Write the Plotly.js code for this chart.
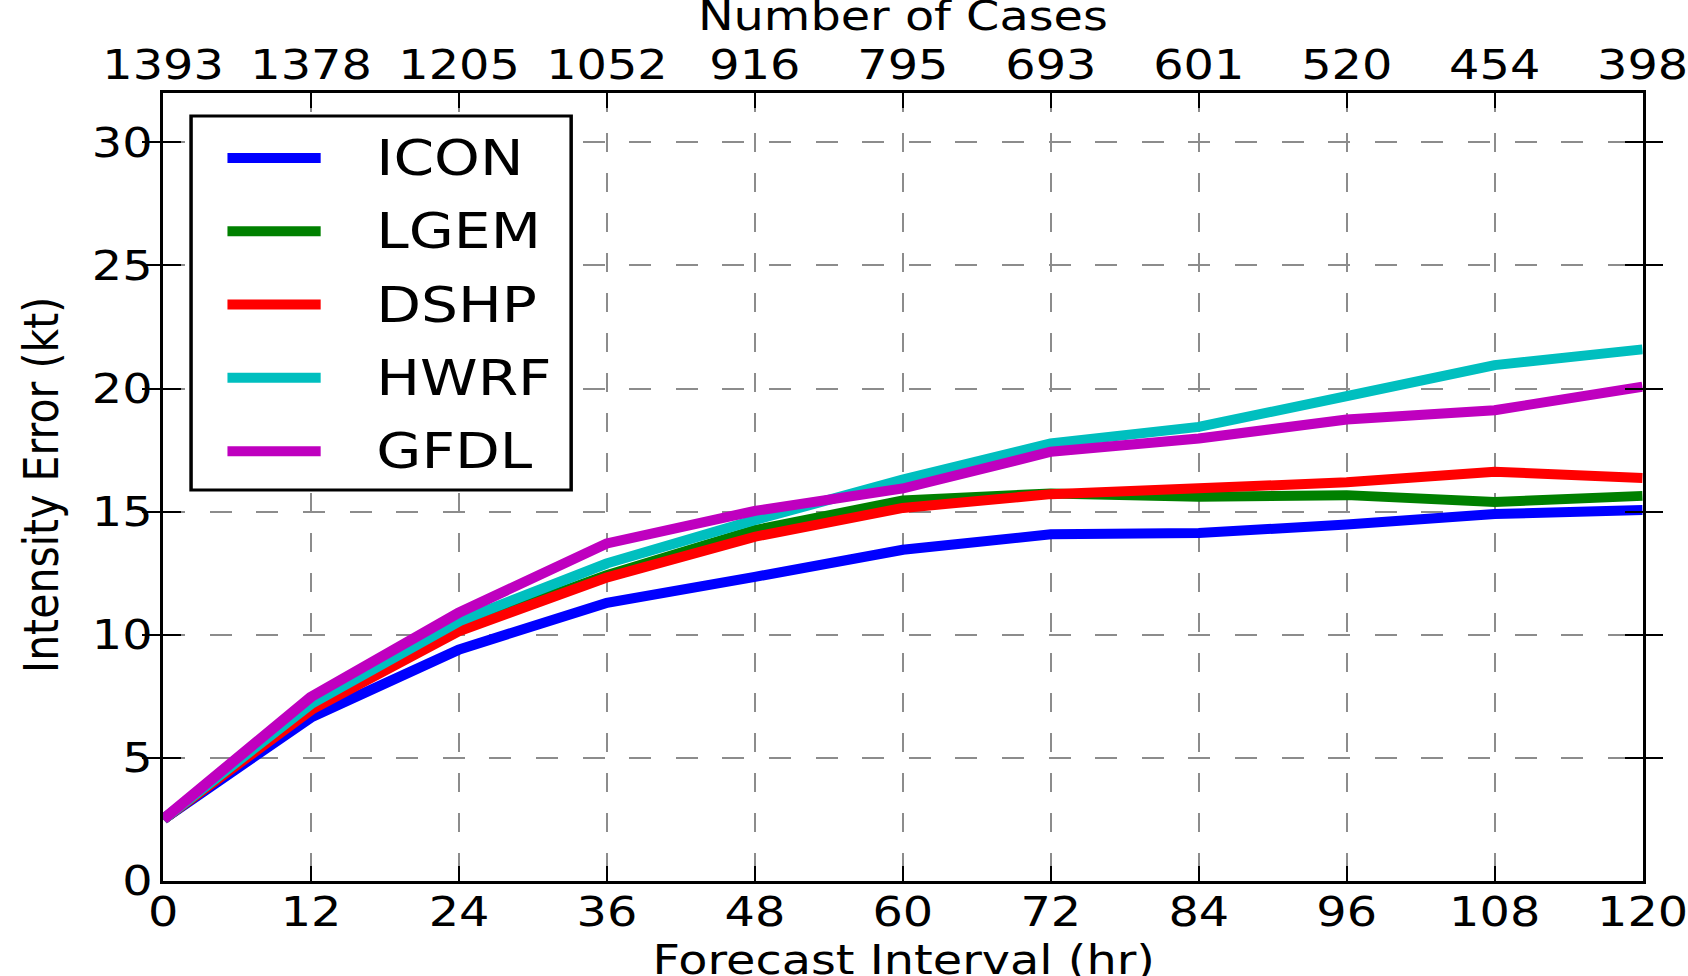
<!DOCTYPE html>
<html>
<head>
<meta charset="utf-8">
<script src="https://cdn.plot.ly/plotly-3.0.1.min.js"></script>
<style>
html,body{margin:0;padding:0;background:#fff;overflow:hidden;}
#wrap{width:1688px;height:976px;overflow:hidden;}
#chart{height:976px;transform-origin:0 0;}
</style>
</head>
<body>
<div id="wrap"><div id="chart"></div></div>
<script>
// Forecast hours (bottom axis) and number of cases (top axis)
const hours = [0, 12, 24, 36, 48, 60, 72, 84, 96, 108, 120];
const caseCounts = ['1393', '1378', '1205', '1052', '916', '795', '693', '601', '520', '454', '398'];

// Intensity error (kt) per model
const icon = [2.5, 6.65, 9.4, 11.3, 12.35, 13.45, 14.08, 14.13, 14.48, 14.9, 15.07];
const lgem = [2.5, 7.0, 10.25, 12.42, 14.25, 15.45, 15.74, 15.6, 15.67, 15.39, 15.64];
const dshp = [2.5, 6.95, 10.15, 12.33, 13.98, 15.15, 15.71, 15.92, 16.19, 16.62, 16.37];
const hwrf = [2.5, 7.2, 10.55, 12.9, 14.66, 16.3, 17.77, 18.44, 19.69, 20.95, 21.59];
const gfdl = [2.5, 7.48, 10.9, 13.71, 15.03, 15.94, 17.43, 17.97, 18.74, 19.12, 20.07];

const modelNames = ['ICON', 'LGEM', 'DSHP', 'HWRF', 'GFDL'];
const modelValues = [icon, lgem, dshp, hwrf, gfdl];
const modelColors = ['#0000ff', '#008000', '#ff0000', '#00bfbf', '#bf00bf'];

const yTicks = [0, 5, 10, 15, 20, 25, 30];

// The reference figure is horizontally stretched; reproduce that stretch.
const STRETCH = 1.165;
const W = 1688 / STRETCH, H = 976;
const chartDiv = document.getElementById('chart');
chartDiv.style.width = W + 'px';
chartDiv.style.transform = 'scaleX(' + STRETCH + ')';

const FONT = 'DejaVu Sans, Liberation Sans, sans-serif';
const FS = 41, LEG_FS = 50;
const LINE_W = 10;

const traces = modelNames.map((name, i) => ({
  type: 'scatter', mode: 'lines', name: name,
  x: hours, y: modelValues[i],
  line: {color: modelColors[i], width: LINE_W},
  xaxis: 'x', yaxis: 'y', showlegend: false, hoverinfo: 'x+y+name'
}));
// carrier for the top (number of cases) axis; draws nothing visible
traces.push({
  type: 'scatter', mode: 'lines', x: hours, y: icon,
  xaxis: 'x2', yaxis: 'y', opacity: 0, showlegend: false, hoverinfo: 'skip',
  line: {width: 0}
});

// Custom legend (box, line samples, labels) in paper coordinates
const legBox = {x0: 0.0189, x1: 0.2758, y0: 0.4962, y1: 0.9708};
const legRowTop = 0.9175, legRowStep = 0.0930;
const legLineX = [0.0435, 0.1065], legTextX = 0.1425;

const shapes = [{
  type: 'rect', xref: 'paper', yref: 'paper',
  x0: legBox.x0, x1: legBox.x1, y0: legBox.y0, y1: legBox.y1,
  line: {color: '#000', width: 3}, fillcolor: '#fff', layer: 'above'
}];
const annotations = [];
modelNames.forEach((name, i) => {
  const yy = legRowTop - i * legRowStep;
  shapes.push({
    type: 'line', xref: 'paper', yref: 'paper',
    x0: legLineX[0], x1: legLineX[1], y0: yy, y1: yy,
    line: {color: modelColors[i], width: LINE_W}, layer: 'above'
  });
  annotations.push({
    xref: 'paper', yref: 'paper', x: legTextX, y: yy,
    xanchor: 'left', yanchor: 'middle', align: 'left', showarrow: false,
    text: name, font: {family: FONT, size: LEG_FS, color: '#000'}
  });
});

// Axis titles
annotations.push({
  xref: 'paper', yref: 'paper', x: 0.5, y: 0, yshift: -78.5,
  xanchor: 'center', yanchor: 'middle', showarrow: false,
  text: 'Forecast Interval (hr)', font: {family: FONT, size: FS, color: '#000'}
});
annotations.push({
  xref: 'paper', yref: 'paper', x: 0.5, y: 1, yshift: 77.5,
  xanchor: 'center', yanchor: 'middle', showarrow: false,
  text: 'Number of Cases', font: {family: FONT, size: FS, color: '#000'}
});
annotations.push({
  xref: 'paper', yref: 'paper', x: 0, y: 0.5, xshift: -104, yshift: 2,
  xanchor: 'center', yanchor: 'middle', textangle: -90, showarrow: false,
  text: 'Intensity Error (kt)', font: {family: FONT, size: FS, color: '#000'}
});

const gridDash = '19px,21px';

const layout = {
  width: W, height: H,
  margin: {l: 163.6 / STRETCH, r: 45.2 / STRETCH, t: 93, b: 95},
  paper_bgcolor: '#fff', plot_bgcolor: '#fff',
  font: {family: FONT, size: FS, color: '#000'},
  showlegend: false,
  xaxis: {
    range: [0, 120], tickmode: 'array', tickvals: hours, ticktext: hours.map(String),
    ticks: 'inside', ticklen: 15, tickwidth: 2, tickcolor: '#000',
    showline: true, linecolor: '#000', linewidth: 2.8, mirror: 'allticks',
    showgrid: true, gridcolor: '#8c8c8c', gridwidth: 2, griddash: gridDash,
    zeroline: false, ticklabeloverflow: 'allow', ticklabelstandoff: -7,
    tickfont: {family: FONT, size: FS, color: '#000'}
  },
  xaxis2: {
    overlaying: 'x', side: 'top', anchor: 'y',
    range: [0, 120], tickmode: 'array', tickvals: hours, ticktext: caseCounts,
    ticks: '', showline: false, showgrid: false, zeroline: false,
    ticklabeloverflow: 'allow', ticklabelstandoff: 5,
    tickfont: {family: FONT, size: FS, color: '#000'}
  },
  yaxis: {
    range: [0, 32], tickmode: 'array', tickvals: yTicks,
    ticks: 'inside', ticklen: 15, tickwidth: 2, tickcolor: '#000',
    showline: true, linecolor: '#000', linewidth: 2.8, mirror: 'allticks',
    showgrid: true, gridcolor: '#8c8c8c', gridwidth: 2, griddash: gridDash,
    zeroline: false, ticklabelstandoff: -2,
    tickfont: {family: FONT, size: FS, color: '#000'}
  },
  shapes: shapes,
  annotations: annotations
};

Plotly.newPlot(chartDiv, traces, layout, {displayModeBar: false, staticPlot: true});
</script>
</body>
</html>
